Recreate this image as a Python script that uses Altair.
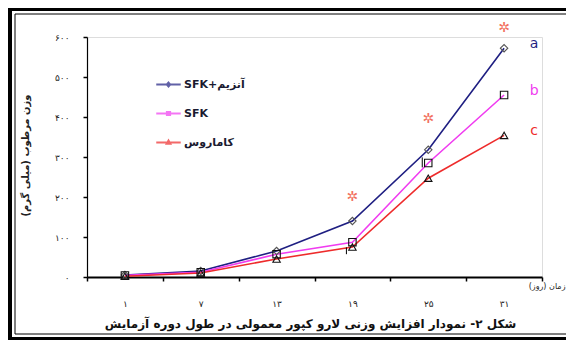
import altair as alt
import pandas as pd

# ---- data ----
days = ["۱", "۷", "۱۳", "۱۹", "۲۵", "۳۱"]
series_names = ["SFK+آنزیم", "SFK", "کاماروس"]
enzyme_sfk = [5, 15, 65, 140, 318, 572]
sfk = [4, 12, 57, 87, 285, 455]
kamaros = [2, 10, 45, 75, 247, 354]
star_days = ["۱۹", "۲۵", "۳۱"]
star_vals = [200, 395, 623]
letters = ["a", "b", "c"]
err_days = ["۱۹", "۲۵"]
err_lo = [57, 274]
err_hi = [74, 299]
y_ticks = [0, 100, 200, 300, 400, 500, 600]
y_tick_labels = ["۰", "۱۰۰", "۲۰۰", "۳۰۰", "۴۰۰", "۵۰۰", "۶۰۰"]
caption = "شکل ۲- نمودار افزایش وزنی لارو کپور معمولی در طول دوره آزمایش"
y_title = "وزن مرطوب (میلی گرم)"
x_title = "زمان (روز)"

colors = ["#1f1f82", "#f03cf0", "#ee2b2b"]
FONT = "DejaVu Sans"
W, H = 455, 240

rows = []
for name, vals in zip(series_names, [enzyme_sfk, sfk, kamaros]):
    for d, v in zip(days, vals):
        rows.append({"day": d, "value": v, "series": name})
df = pd.DataFrame(rows)

stars = pd.DataFrame({"day": star_days, "value": star_vals})
last = pd.DataFrame({
    "day": [days[-1]] * 3,
    "value": [enzyme_sfk[-1], sfk[-1], kamaros[-1]],
    "letter": letters,
    "series": series_names,
})
errs = pd.DataFrame({"day": err_days, "lo": err_lo, "hi": err_hi})

label_expr = "[" + ",".join("'" + s + "'" for s in y_tick_labels) + "][round(datum.value/100)]"

x_enc = alt.X(
    "day:N",
    sort=days,
    bandPosition=0.5,
    scale=alt.Scale(type="band", domain=days, paddingInner=0, paddingOuter=0),
    axis=alt.Axis(
        title=x_title, titleX=W + 23, titleY=9, titleAlign="right",
        titleBaseline="middle", titleFontSize=8, titleFontWeight="normal",
        titleFont=FONT, titleColor="#222",
        labelAngle=0, labelFont=FONT, labelFontSize=9, labelColor="#222",
        labelPadding=18, tickBand="extent", tickSize=4, tickColor="#000",
        tickWidth=1.5, domainColor="#000", domainWidth=2.2, grid=False,
    ),
)
y_scale = alt.Scale(domain=[0, 600], nice=False, zero=True)
y_axis = alt.Axis(
    title=y_title, titleX=-62, titleY=H / 2 - 2, titleFont=FONT,
    titleFontSize=10, titleFontWeight="bold", titleColor="#222",
    titleAlign="center", titleBaseline="middle",
    values=y_ticks, labelExpr=label_expr, labelFont=FONT,
    labelFontSize=9, labelColor="#222", labelPadding=14, labelOverlap=False,
    tickSize=4, tickColor="#000", tickWidth=1.5,
    domainColor="#000", domainWidth=1.2, grid=False,
)


def yq(field):
    return alt.Y(field, type="quantitative", scale=y_scale, axis=y_axis, title=y_title)


color_scale = alt.Scale(domain=series_names, range=colors)

one = alt.Data(values=[{}])
frame_parts = [
    # thick outer border: top, bottom, left
    alt.Chart(one).mark_rule(color="#000", strokeWidth=4).encode(
        x=alt.value(-79), x2=alt.value(W + 40), y=alt.value(-28)),
    alt.Chart(one).mark_rule(color="#000", strokeWidth=4).encode(
        x=alt.value(-79), x2=alt.value(W + 40), y=alt.value(H + 62)),
    alt.Chart(one).mark_rule(color="#000", strokeWidth=4).encode(
        x=alt.value(-77), y=alt.value(-30), y2=alt.value(H + 64)),
    # thin inner border
    alt.Chart(one).mark_rule(color="#000", strokeWidth=1).encode(
        x=alt.value(-72), x2=alt.value(W + 40), y=alt.value(-23)),
    alt.Chart(one).mark_rule(color="#000", strokeWidth=1).encode(
        x=alt.value(-72), x2=alt.value(W + 40), y=alt.value(H + 57)),
    alt.Chart(one).mark_rule(color="#000", strokeWidth=1).encode(
        x=alt.value(-72), y=alt.value(-23), y2=alt.value(H + 57)),
]

lines = alt.Chart(df).mark_line(strokeWidth=1.6).encode(
    x=x_enc, y=yq("value"),
    color=alt.Color("series:N", scale=color_scale, title=None),
)


def markers(name, shape, size, col):
    return alt.Chart(df).transform_filter(
        alt.datum.series == name
    ).mark_point(shape=shape, filled=False, size=size, color=col, strokeWidth=1.1,
                 opacity=1).encode(x=x_enc, y=yq("value"))


m1 = markers(series_names[0], "diamond", 55, "#555")
m2 = markers(series_names[1], "square", 55, "#111")
m3 = markers(series_names[2], "triangle-up", 55, "#111")

legend_paths = [
    "M-1,0H-0.14M0.14,0H1M0,-0.16L0.14,0L0,0.16L-0.14,0Z",
    "M-1,0H1M-0.13,-0.13H0.13V0.13H-0.13Z",
    "M-1,0H1M0,-0.16L0.15,0.1H-0.15Z",
]
legend_layer = alt.Chart(df).transform_filter("false").mark_point(
    filled=False, strokeWidth=2
).encode(
    x=x_enc, y=yq("value"),
    color=alt.Color("series:N", scale=color_scale, title=None,
                    legend=alt.Legend(
                        orient="none", legendX=68, legendY=34,
                        symbolSize=600, symbolStrokeWidth=2,
                        labelFont=FONT, labelFontSize=11, labelFontWeight="bold",
                        labelColor="#1a1a30", labelOffset=2, rowPadding=9,
                        padding=0)),
    shape=alt.Shape("series:N",
                    scale=alt.Scale(domain=series_names, range=legend_paths),
                    title=None),
)

star_layer = alt.Chart(stars).mark_text(
    text="✲", fontSize=14, fontWeight="bold", color="#f2705e", font=FONT
).encode(x=x_enc, y=yq("value"))

letter_layer = alt.Chart(last).mark_text(
    fontSize=14, font=FONT, dx=30, dy=-4
).encode(
    x=x_enc, y=yq("value"), text="letter:N",
    color=alt.Color("series:N", scale=color_scale, title=None),
)

err_layer = alt.Chart(errs).mark_rule(color="#000", strokeWidth=1, xOffset=-6).encode(
    x=x_enc, y=yq("lo"), y2="hi:Q"
)

chart = alt.layer(
    *frame_parts, lines, m1, m2, m3, err_layer, star_layer, letter_layer,
    legend_layer,
).properties(
    width=W, height=H,
    autosize=alt.AutoSizeParams(type="none"),
    padding={"left": 79, "top": 29, "right": 24, "bottom": 63},
    title=alt.TitleParams(
        text=caption, orient="bottom", anchor="middle", font=FONT,
        fontSize=12, fontWeight="bold", color="#111", offset=-24, dx=-4,
    ),
).configure_view(stroke=None).configure(background="white")

chart.save("out.html", embed_options={"renderer": "svg", "actions": False})
